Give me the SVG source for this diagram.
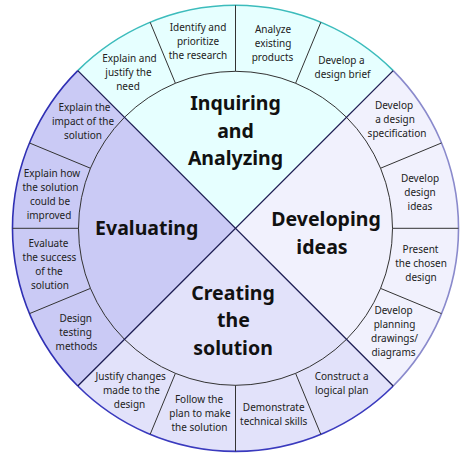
<svg xmlns="http://www.w3.org/2000/svg" width="474" height="459" viewBox="0 0 474 459">
<style>
.big{font-family:"Noto Sans","DejaVu Sans",sans-serif;font-weight:bold;font-size:19.5px;fill:#111;text-anchor:middle}
.sm{font-family:"Noto Sans","DejaVu Sans",sans-serif;font-size:10px;fill:#222;text-anchor:middle}
.div{stroke:#333;stroke-width:1;fill:none}
.diag{stroke:#1c1c52;stroke-width:1.3;fill:none}
.arc{fill:none;stroke-width:1.6}
</style>
<rect width="474" height="459" fill="#ffffff"/>
<g id="quadrant-inquiring">
<path d="M235.5,228.3 L77.8,70.6 A223,223 0 0 1 393.2,70.6 Z" fill="#e6ffff"/>
<path class="arc" d="M77.8,70.6 A223,223 0 0 1 393.2,70.6" stroke="#3cbcbc"/>
<text class="big" x="235.5" y="110">Inquiring</text>
<text class="big" x="235.5" y="137.5">and</text>
<text class="big" x="235.5" y="165">Analyzing</text>
</g>
<g id="quadrant-developing">
<path d="M235.5,228.3 L393.2,70.6 A223,223 0 0 1 393.2,386 Z" fill="#f1f1fd"/>
<path class="arc" d="M393.2,70.6 A223,223 0 0 1 393.2,386" stroke="#8a8acc"/>
<text class="big" x="326" y="226">Developing</text>
<text class="big" x="322" y="254">ideas</text>
</g>
<g id="quadrant-creating">
<path d="M235.5,228.3 L393.2,386 A223,223 0 0 1 77.8,386 Z" fill="#e2e2fa"/>
<path class="arc" d="M393.2,386 A223,223 0 0 1 77.8,386" stroke="#3a3abe"/>
<text class="big" x="233" y="300">Creating</text>
<text class="big" x="233.5" y="327">the</text>
<text class="big" x="233" y="355">solution</text>
</g>
<g id="quadrant-evaluating">
<path d="M235.5,228.3 L77.8,386 A223,223 0 0 1 77.8,70.6 Z" fill="#cacaf5"/>
<path class="arc" d="M77.8,386 A223,223 0 0 1 77.8,70.6" stroke="#3030b4"/>
<text class="big" x="146.7" y="235">Evaluating</text>
</g>
<g id="connectors">
<circle class="div" cx="235.5" cy="228.3" r="157"/>
<line class="div" x1="175.42" y1="83.25" x2="150.16" y2="22.27"/>
<line class="div" x1="235.5" y1="71.3" x2="235.5" y2="5.3"/>
<line class="div" x1="295.58" y1="83.25" x2="320.84" y2="22.27"/>
<line class="div" x1="380.55" y1="168.22" x2="441.53" y2="142.96"/>
<line class="div" x1="392.5" y1="228.3" x2="458.5" y2="228.3"/>
<line class="div" x1="380.55" y1="288.38" x2="441.53" y2="313.64"/>
<line class="div" x1="295.58" y1="373.35" x2="320.84" y2="434.33"/>
<line class="div" x1="235.5" y1="385.3" x2="235.5" y2="451.3"/>
<line class="div" x1="175.42" y1="373.35" x2="150.16" y2="434.33"/>
<line class="div" x1="90.45" y1="288.38" x2="29.47" y2="313.64"/>
<line class="div" x1="78.5" y1="228.3" x2="12.5" y2="228.3"/>
<line class="div" x1="90.45" y1="168.22" x2="29.47" y2="142.96"/>
<line class="diag" x1="77.8" y1="70.6" x2="393.2" y2="386"/>
<line class="diag" x1="393.2" y1="70.6" x2="77.8" y2="386"/>
</g>
<g id="seg-explain-justify"><text class="sm" x="129.5" y="62.3">Explain and</text><text class="sm" x="128.5" y="76.3">justify the</text><text class="sm" x="128" y="90.3">need</text></g>
<g id="seg-identify"><text class="sm" x="198" y="31">Identify and</text><text class="sm" x="198" y="45">prioritize</text><text class="sm" x="198" y="59">the research</text></g>
<g id="seg-analyze"><text class="sm" x="273" y="32.7">Analyze</text><text class="sm" x="273" y="46.7">existing</text><text class="sm" x="272.5" y="60.7">products</text></g>
<g id="seg-design-brief"><text class="sm" x="341.5" y="64">Develop a</text><text class="sm" x="342.5" y="78">design brief</text></g>
<g id="seg-design-spec"><text class="sm" x="394" y="109">Develop</text><text class="sm" x="395" y="123">a design</text><text class="sm" x="397" y="137">specification</text></g>
<g id="seg-design-ideas"><text class="sm" x="420" y="181.7">Develop</text><text class="sm" x="420" y="195.7">design</text><text class="sm" x="420" y="209.7">ideas</text></g>
<g id="seg-present"><text class="sm" x="420.5" y="253.3">Present</text><text class="sm" x="421" y="267.3">the chosen</text><text class="sm" x="421" y="281.3">design</text></g>
<g id="seg-planning"><text class="sm" x="393.5" y="314.3">Develop</text><text class="sm" x="394.5" y="328.3">planning</text><text class="sm" x="394.5" y="342.3">drawings/</text><text class="sm" x="393.5" y="356.3">diagrams</text></g>
<g id="seg-logical-plan"><text class="sm" x="341.7" y="380">Construct a</text><text class="sm" x="341.7" y="394">logical plan</text></g>
<g id="seg-technical"><text class="sm" x="273.7" y="410.7">Demonstrate</text><text class="sm" x="273.7" y="424.7">technical skills</text></g>
<g id="seg-follow-plan"><text class="sm" x="199" y="403.3">Follow the</text><text class="sm" x="200" y="417.3">plan to make</text><text class="sm" x="199.5" y="431.3">the solution</text></g>
<g id="seg-justify-changes"><text class="sm" x="130.7" y="380">Justify changes</text><text class="sm" x="131.5" y="394">made to the</text><text class="sm" x="129.5" y="408">design</text></g>
<g id="seg-testing"><text class="sm" x="75.7" y="321.7">Design</text><text class="sm" x="75.5" y="335.7">testing</text><text class="sm" x="76.5" y="349.7">methods</text></g>
<g id="seg-evaluate-success"><text class="sm" x="48.5" y="247.3">Evaluate</text><text class="sm" x="49.5" y="261.3">the success</text><text class="sm" x="49" y="275.3">of the</text><text class="sm" x="50" y="289.3">solution</text></g>
<g id="seg-improved"><text class="sm" x="52" y="176.7">Explain how</text><text class="sm" x="50.5" y="190.7">the solution</text><text class="sm" x="50" y="204.7">could be</text><text class="sm" x="49" y="218.7">improved</text></g>
<g id="seg-impact"><text class="sm" x="84.5" y="110.7">Explain the</text><text class="sm" x="83" y="124.7">impact of the</text><text class="sm" x="83" y="138.7">solution</text></g>
</svg>
